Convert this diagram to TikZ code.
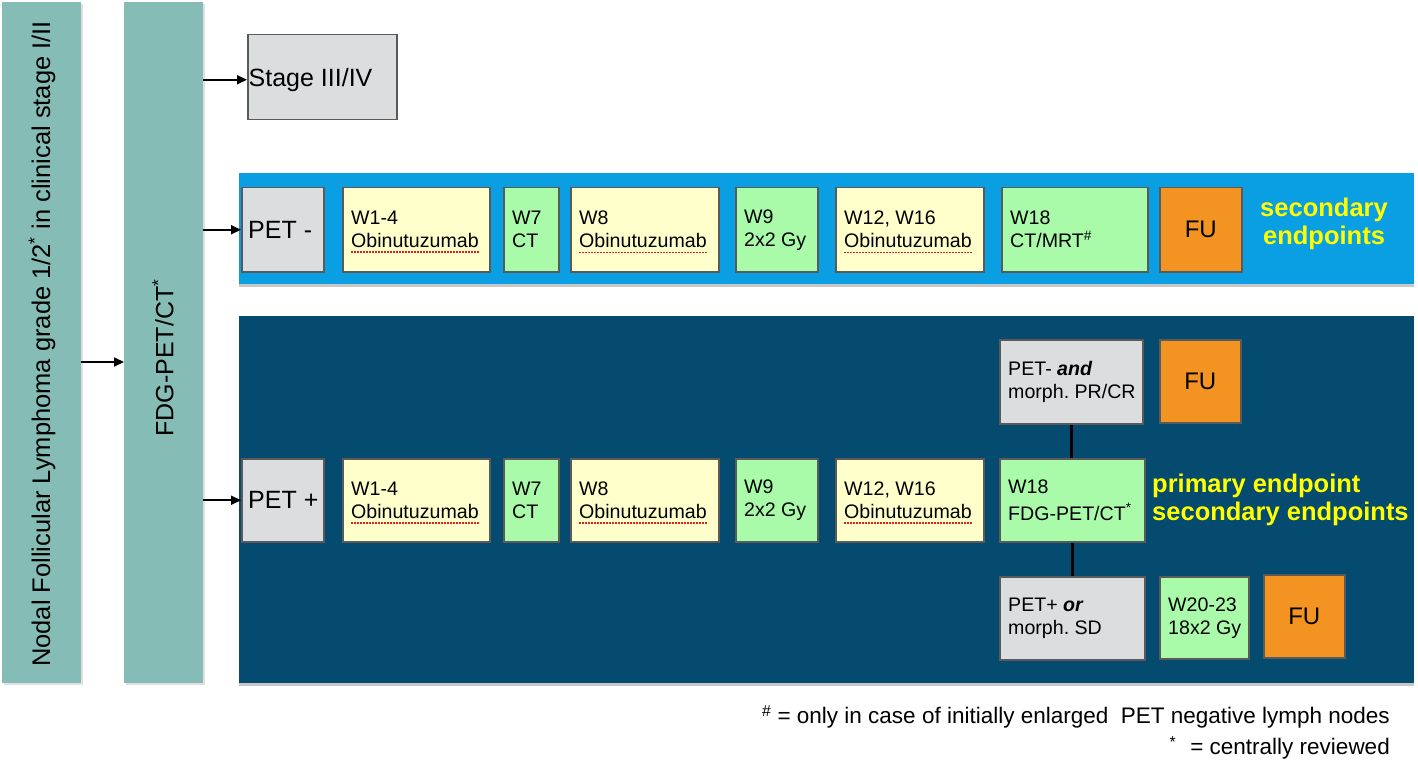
\documentclass[tikz,border=0pt]{standalone}
\usepackage{fontspec}
\setmainfont{Liberation Sans}
\usetikzlibrary{arrows.meta,shadows}
\frenchspacing
\definecolor{barteal}{HTML}{86BCB6}
\definecolor{boxgray}{HTML}{DCDDDF}
\definecolor{boxline}{HTML}{5A5A5A}
\definecolor{boxyellow}{HTML}{FFFFCC}
\definecolor{boxgreen}{HTML}{A9FBA9}
\definecolor{boxorange}{HTML}{F39321}
\definecolor{bandlight}{HTML}{0A9FE2}
\definecolor{banddark}{HTML}{054A6F}
\definecolor{endyellow}{HTML}{FFFF00}
\definecolor{spellred}{HTML}{E02020}
% box: style, name, x, y, w, h, text (left aligned, 9pt padding)
\newcommand\wbox[7]{%
  \node[#1, minimum width=#5pt, minimum height=#6pt] (#2) at (#3,#4) {};
  \node[btext] (#2t) at ([xshift=9pt]#2.west) {#7};}
\begin{document}
\begin{tikzpicture}[x=1pt,y=-1pt,
  bx/.style={draw=boxline, line width=1.5pt, anchor=north west, inner sep=0pt},
  gray box/.style={bx, fill=boxgray},
  yel box/.style={bx, fill=boxyellow},
  grn box/.style={bx, fill=boxgreen},
  fu box/.style={bx, fill=boxorange, align=center, font=\fontsize{24}{28}\selectfont},
  btext/.style={anchor=west, inner sep=0pt, align=left, text=black, font=\fontsize{19.6}{23}\selectfont},
  bigtext/.style={anchor=west, inner sep=0pt, text=black, font=\fontsize{25}{30}\selectfont},
  bar/.style={fill=barteal, draw=none, anchor=north west, inner sep=0pt, drop shadow={shadow xshift=1.5pt, shadow yshift=-2pt, fill=black, opacity=0.12}},
  band/.style={draw=none, anchor=north west, inner sep=0pt, drop shadow={shadow xshift=0pt, shadow yshift=-3pt, fill=black, opacity=0.22}},
  endp/.style={text=endyellow, font=\fontsize{25.5}{28.5}\bfseries\selectfont, inner sep=0pt},
  arr/.style={line width=2pt, -{Triangle[length=10pt,width=9pt]}},
  link/.style={line width=3pt, black},
  spell/.style={spellred, line width=1.7pt, dash pattern=on 1.7pt off 1.3pt},
  foot/.style={font=\fontsize{22.5}{27}\selectfont, anchor=east, inner sep=0pt}
]
\useasboundingbox (0,0) rectangle (1418,762);
\fill[white] (0,0) rectangle (1418,762);

% vertical bars
\node[bar, minimum width=79pt, minimum height=681pt] (bar1) at (2,2) {};
\node[bar, minimum width=79pt, minimum height=681pt] (bar2) at (124,2) {};
\node[rotate=90, font=\fontsize{25.5}{30}\selectfont, inner sep=0pt] (t1) at (42,344) {Nodal Follicular Lymphoma grade 1/2\textsuperscript{*} in clinical stage I/II};
\node[rotate=90, font=\fontsize{25}{30}\selectfont, inner sep=0pt] (t2) at (163,358) {FDG-PET/CT\textsuperscript{*}};

% bands
\node[band, fill=bandlight, minimum width=1175pt, minimum height=111pt] (bandA) at (239,173) {};
\node[band, fill=banddark, minimum width=1175pt, minimum height=367pt] (bandB) at (239,316) {};

% stage III/IV
\node[gray box, minimum width=149pt, minimum height=85pt] (stage) at (247,34) {};
\node[bigtext] (staget) at ([xshift=1.5pt,yshift=-2.5pt]stage.west) {Stage III/IV};

% PET- row
\node[gray box, minimum width=82pt, minimum height=84pt] (petm) at (241,187) {};
\node[bigtext] (petmt) at ([xshift=7pt]petm.west) {PET -};
\wbox{yel box}{a1}{342}{187}{147}{84}{W1-4\\Obinutuzumab}
\wbox{grn box}{a2}{503}{187}{55}{84}{W7\\CT}
\wbox{yel box}{a3}{570}{187}{148}{84}{W8\\Obinutuzumab}
\wbox{grn box}{a4}{735}{187}{82}{84}{W9\\2x2 Gy}
\wbox{yel box}{a5}{835}{187}{148}{84}{W12, W16\\Obinutuzumab}
\wbox{grn box}{a6}{1001}{187}{146}{84}{W18\\CT/MRT\textsuperscript{\#}}
\node[fu box, minimum width=82pt, minimum height=84pt] (a7) at (1159,187) {FU};
\node[endp, align=center] (epA) at (1324,224) {secondary\\endpoints};

% PET+ row
\node[gray box, minimum width=82pt, minimum height=83pt] (petp) at (241,458) {};
\node[bigtext] (petpt) at ([xshift=7pt]petp.west) {PET +};
\wbox{yel box}{b1}{342}{458}{147}{83}{W1-4\\Obinutuzumab}
\wbox{grn box}{b2}{503}{458}{55}{83}{W7\\CT}
\wbox{yel box}{b3}{570}{458}{148}{83}{W8\\Obinutuzumab}
\wbox{grn box}{b4}{735}{458}{82}{83}{W9\\2x2 Gy}
\wbox{yel box}{b5}{835}{458}{148}{83}{W12, W16\\Obinutuzumab}
\wbox{grn box}{b6}{999}{458}{145}{83}{W18\\[4pt]FDG-PET/CT\textsuperscript{*}}
\node[endp, align=left, anchor=west] (epB) at (1152,500) {primary endpoint\\secondary endpoints};

\wbox{gray box}{c1}{999}{339}{143}{84}{PET- \textbf{\textit{and}}\\morph. PR/CR}
\node[fu box, minimum width=81pt, minimum height=83pt] (c2) at (1159,339) {FU};
\wbox{gray box}{d1}{999}{576}{145}{83}{PET+ \textbf{\textit{or}}\\morph. SD}
\wbox{grn box}{d2}{1159}{576}{89}{82}{W20-23\\18x2 Gy}
\node[fu box, minimum width=81pt, minimum height=83pt] (d3) at (1263,574) {FU};

% spell-check underlines
\foreach \n in {a1t,a3t,a5t,b1t,b3t,b5t}
  \draw[spell] ([yshift=-4pt]\n.south west) -- ([yshift=-4pt]\n.south east);

% links
\draw[link] (c1.south) -- (c1.south |- b6.north);
\draw[link] (b6.south) -- (b6.south |- d1.north);

% arrows
\coordinate (ya) at (0,362);
\draw[arr] (bar1.east |- ya) -- (bar2.west |- ya);
\draw[arr] (bar2.east |- staget.west) -- (stage.west |- staget.west);
\draw[arr] (bar2.east |- petm.west) -- (petm.west);
\draw[arr] (bar2.east |- petp.west) -- (petp.west);

% footnotes
\node[foot] (f1) at (1390,717) {\textsuperscript{\#} = only in case of initially enlarged~ PET negative lymph nodes};
\node[foot] (f2) at (1390,748) {\textsuperscript{*}\hspace{14pt}= centrally reviewed};
\end{tikzpicture}
\end{document}
